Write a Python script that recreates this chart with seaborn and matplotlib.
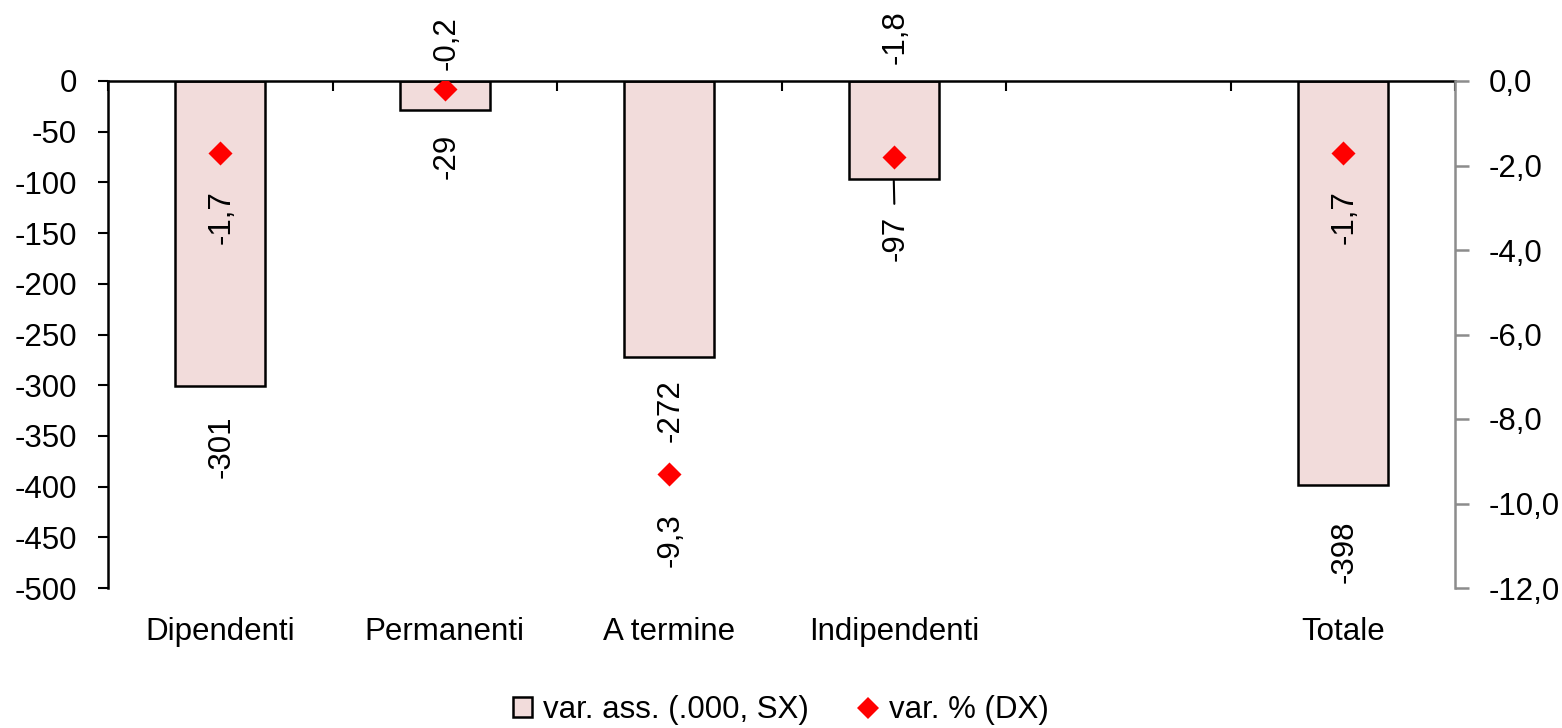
import numpy as np
import pandas as pd
import matplotlib
matplotlib.use("Agg")
import matplotlib.pyplot as plt
from matplotlib.patches import Patch
from matplotlib.lines import Line2D
from matplotlib.ticker import FuncFormatter, MultipleLocator, FixedLocator
import seaborn as sns

# Employment changes by category (thousands, left axis) and percent change (right axis)
categories = ["Dipendenti", "Permanenti", "A termine", "Indipendenti", "", "Totale"]
abs_change = [-301, -29, -272, -97, np.nan, -398]
pct_change = [-1.7, -0.2, -9.3, -1.8, np.nan, -1.7]
legend_labels = ["var. ass. (.000, SX)", "var. % (DX)"]

BAR_FILL = "#F2DCDB"
DIAMOND = "#FF0000"
GREY = "#8C8C8C"
FS = 22.5

sns.set_theme(style="white")
plt.rcParams["font.family"] = ["Liberation Sans", "DejaVu Sans"]
plt.rcParams["font.size"] = FS
plt.rcParams["axes.unicode_minus"] = False
plt.rcParams["text.color"] = "black"

df = pd.DataFrame({"cat": categories, "abs": abs_change, "pct": pct_change})
xpos = np.arange(len(categories))

fig = plt.figure(figsize=(15.62, 7.28), dpi=100)
ax = fig.add_axes([108 / 1562, 1 - 588 / 728, (1455 - 108) / 1562, (588 - 81) / 728])

sns.barplot(data=df, x="cat", y="abs", order=categories, width=0.4,
            color=BAR_FILL, saturation=1, edgecolor="black", linewidth=1.8, ax=ax)
ax.set_xlim(-0.5, len(categories) - 0.5)
ax.set_ylim(-500, 0)
ax.yaxis.set_major_locator(MultipleLocator(50))
ax.set_xlabel("")
ax.set_ylabel("")

# Category names along the bottom, slot separators on the zero line
ax.set_xticks(xpos)
ax.set_xticklabels(categories)
ax.xaxis.set_minor_locator(FixedLocator(np.arange(-0.5, len(categories), 1.0)))
ax.tick_params(axis="x", which="major", bottom=True, top=False, length=0,
               labelsize=FS, pad=21, colors="black")
ax.tick_params(axis="x", which="minor", bottom=False, top=True, direction="in",
               length=7.5, width=1.5, colors="black")
ax.tick_params(axis="y", which="major", left=True, length=7.5, width=1.5,
               labelsize=FS, pad=15, colors="black")
for s in ["bottom", "right"]:
    ax.spines[s].set_visible(False)
for s in ["top", "left"]:
    ax.spines[s].set_color("black")
    ax.spines[s].set_linewidth(1.8)

ax2 = ax.twinx()
sns.scatterplot(x=xpos, y=df["pct"], marker="D", s=150, color=DIAMOND,
                linewidth=0, ax=ax2, zorder=5, legend=False)
ax2.set_ylim(-12, 0)
ax2.yaxis.set_major_locator(MultipleLocator(2))
ax2.yaxis.set_major_formatter(FuncFormatter(
    lambda v, p: ("%.1f" % (v + 0.0)).replace("-0.0", "0.0").replace(".", ",")))
ax2.set_ylabel("")
for s in ["top", "left", "bottom"]:
    ax2.spines[s].set_visible(False)
ax2.spines["right"].set_color(GREY)
ax2.spines["right"].set_linewidth(1.8)
ax2.tick_params(axis="y", which="major", right=True, length=10, width=1.8,
                color=GREY, labelcolor="black", labelsize=FS, pad=14)
ax2.grid(False)
ax.grid(False)

def fmt(v, dec):
    return (("%%.%df" % dec) % v).replace(".", ",")

# Value labels for the bars (below each bar end)
bar_offsets = [-21, -17, -16, -26, None, -26]
for i, (v, off) in enumerate(zip(abs_change, bar_offsets)):
    if np.isnan(v):
        continue
    arrow = None
    if categories[i] == "Indipendenti":
        arrow = dict(arrowstyle="-", color="black", lw=1.5, shrinkA=6, shrinkB=1)
    ax.annotate(fmt(v, 0), xy=(i, v), xytext=(1, off), textcoords="offset points",
                rotation=90, ha="center", va="top", fontsize=FS, color="black",
                arrowprops=arrow, zorder=6)

# Value labels for the percent markers
pct_offsets = [(1, -27, "top"), (1, 14, "bottom"), (1, -28, "top"),
               (1, 67, "bottom"), None, (1, -27, "top")]
for i, (v, o) in enumerate(zip(pct_change, pct_offsets)):
    if np.isnan(v):
        continue
    dx, dy, va = o
    ax2.annotate(fmt(v, 1), xy=(i, v), xytext=(dx, dy), textcoords="offset points",
                 rotation=90, ha="center", va=va, fontsize=FS, color="black",
                 zorder=6, annotation_clip=False)

handles = [Patch(facecolor=BAR_FILL, edgecolor="black", linewidth=1.8),
           Line2D([], [], marker="D", linestyle="none", color=DIAMOND,
                  markersize=11, markeredgewidth=0)]
leg = fig.legend(handles, legend_labels, loc="center", bbox_to_anchor=(0.5, 1 - 710 / 728),
                 ncol=2, frameon=False, fontsize=FS, handlelength=0.6, handleheight=0.6,
                 handletextpad=0.35, columnspacing=1.6, borderpad=0)
for t in leg.get_texts():
    t.set_color("black")

fig.savefig("out.png", dpi=100)
